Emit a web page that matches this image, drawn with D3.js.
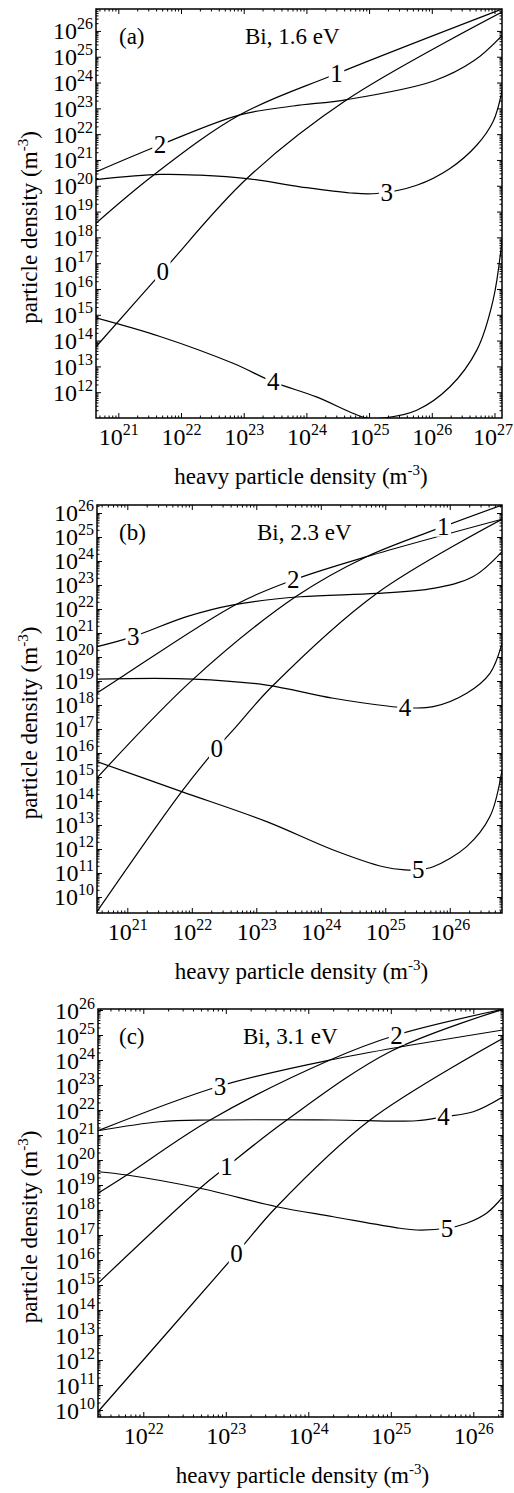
<!DOCTYPE html>
<html>
<head>
<meta charset="utf-8">
<script src="https://cdn.jsdelivr.net/npm/d3@7/dist/d3.min.js"></script>
<style>
  body { margin: 0; background: #fff; }
  svg text { font-family: "Liberation Serif", "Times New Roman", serif; fill: #000; }
</style>
</head>
<body>
<svg id="fig" width="514" height="1493"></svg>
<script>
// all values are log10 of the density in m^-3
// [heavy particle density, particle density]

// panel (a) Bi, 1.6 eV
var aXTicks = [21, 22, 23, 24, 25, 26, 27];
var aYTicks = [12, 13, 14, 15, 16, 17, 18, 19, 20, 21, 22, 23, 24, 25, 26];
var aNames = ["0", "1", "2", "3", "4"];
var aLabelAt = [21.71, 24.48, 21.665, 25.28, 23.47];
var a0 = [[20.644, 13.76], [21.71, 16.69], [23.05, 20.28], [24.65, 23.34], [27.12, 26.73]];
var a1 = [[20.644, 18.55], [21.56, 20.41], [22.94, 22.75], [24.48, 24.34], [27.12, 26.85]];
var a2 = [[20.644, 20.54], [21.665, 21.58], [22.94, 22.75], [23.79, 23.09], [24.65, 23.34],
          [26.03, 24.06], [26.67, 24.84], [27.12, 25.82]];
var a3 = [[20.644, 20.24], [21.665, 20.44], [22.30, 20.41], [23.05, 20.28], [23.90, 19.96],
          [24.70, 19.72], [25.12, 19.70], [25.76, 20.02], [26.29, 20.67], [26.72, 21.58],
          [26.98, 22.50], [27.12, 23.67]];
var a4 = [[20.644, 14.88], [21.665, 14.16], [22.83, 13.12], [23.47, 12.40], [24.16, 11.82],
          [24.96, 11.0], [25.23, 11.0], [25.76, 11.30], [26.29, 12.21], [26.72, 13.64],
          [26.98, 15.59], [27.12, 17.9]];

// panel (b) Bi, 2.3 eV
var bXTicks = [21, 22, 23, 24, 25, 26];
var bYTicks = [10, 11, 12, 13, 14, 15, 16, 17, 18, 19, 20, 21, 22, 23, 24, 25, 26];
var bNames = ["0", "1", "2", "3", "4", "5"];
var bLabelAt = [22.386, 25.899, 23.574, 21.093, 25.305, 25.512];
var b0 = [[20.53, 9.39], [21.843, 14.39], [22.386, 16.20], [22.643, 16.96], [23.239, 18.76],
          [24.867, 22.65], [26.81, 25.74]];
var b1 = [[20.53, 14.96], [22.023, 19.08], [23.626, 22.54], [24.71, 24.18], [25.899, 25.43],
          [26.81, 26.33]];
var b2 = [[20.53, 18.50], [20.84, 19.04], [22.70, 22.21], [23.574, 23.21], [24.71, 24.18],
          [26.81, 25.74]];
var b3 = [[20.53, 20.43], [21.093, 20.85], [21.921, 21.68], [22.643, 22.17], [23.678, 22.51],
          [24.867, 22.65], [25.744, 22.86], [26.364, 23.35], [26.81, 24.39]];
var b4 = [[20.53, 19.08], [22.023, 19.08], [23.161, 18.83], [24.194, 18.28], [25.305, 17.89],
          [25.744, 17.93], [26.262, 18.49], [26.623, 19.32], [26.81, 20.57]];
var b5 = [[20.53, 15.64], [21.843, 14.39], [23.161, 13.14], [24.194, 11.96], [24.969, 11.26],
          [25.305, 11.13], [25.512, 11.13], [25.744, 11.26], [26.262, 12.10], [26.623, 13.35],
          [26.81, 15.29]];

// panel (c) Bi, 3.1 eV
var cXTicks = [22, 23, 24, 25, 26];
var cYTicks = [10, 11, 12, 13, 14, 15, 16, 17, 18, 19, 20, 21, 22, 23, 24, 25, 26];
var cNames = ["0", "1", "2", "3", "4", "5"];
var cLabelAt = [23.13, 23.01, 25.07, 22.93, 25.64, 25.68];
var c0 = [[21.451, 9.93], [23.13, 16.27], [23.617, 18.13], [24.748, 21.6], [26.36, 24.87]];
var c1 = [[21.451, 15.07], [22.687, 18.87], [23.01, 19.73], [23.74, 21.6], [24.99, 24.33],
          [26.36, 26.03]];
var c2 = [[21.451, 18.67], [21.80, 19.40], [22.81, 21.60], [24.263, 24.0], [25.07, 25.0],
          [26.36, 26.03]];
var c3 = [[21.451, 21.17], [22.93, 22.96], [24.263, 24.0], [26.36, 25.2]];
var c4 = [[21.451, 21.17], [22.2, 21.53], [22.81, 21.6], [24.30, 21.6], [25.31, 21.57],
          [25.64, 21.73], [26.0, 21.93], [26.36, 22.53]];
var c5 = [[21.451, 19.53], [21.80, 19.40], [22.687, 18.87], [23.617, 18.13], [24.303, 17.73],
          [25.11, 17.27], [25.31, 17.2], [25.68, 17.27], [25.92, 17.47], [26.16, 17.87],
          [26.36, 18.53]];

var panels = [
  { box: [96, 9, 502, 418], xDom: [20.644, 27.12], yDom: [11, 26.85],
    xTicks: aXTicks, yTicks: aYTicks, curves: [a0, a1, a2, a3, a4], names: aNames, labelAt: aLabelAt,
    tag: "(a)", title: "Bi, 1.6 eV", titleX: 245 },
  { box: [97, 505, 502, 913], xDom: [20.53, 26.81], yDom: [9.333, 26.333],
    xTicks: bXTicks, yTicks: bYTicks, curves: [b0, b1, b2, b3, b4, b5], names: bNames, labelAt: bLabelAt,
    tag: "(b)", title: "Bi, 2.3 eV", titleX: 257 },
  { box: [98, 1009, 503, 1417], xDom: [21.451, 26.36], yDom: [9.72, 26.04],
    xTicks: cXTicks, yTicks: cYTicks, curves: [c0, c1, c2, c3, c4, c5], names: cNames, labelAt: cLabelAt,
    tag: "(c)", title: "Bi, 3.1 eV", titleX: 243 }
];

var svg = d3.select("#fig");
var pow = function(e) { return Math.pow(10, e); };

function minorTicks(dom) {
  var out = [];
  for (var e = Math.floor(dom[0]); e <= Math.ceil(dom[1]); e++) {
    for (var m = 2; m <= 9; m++) {
      var v = Math.log10(m) + e;
      if (v > dom[0] && v < dom[1]) out.push(pow(v));
    }
  }
  return out;
}

function sciText(sel) {
  sel.each(function(d) {
    var t = d3.select(this);
    t.text(null);
    t.append("tspan").text("10");
    t.append("tspan").attr("dy", -10).attr("font-size", 16).text(Math.round(Math.log10(d)));
  });
}

function unitText(t, s) {
  t.append("tspan").text(s + " (m");
  t.append("tspan").attr("dy", -9).attr("font-size", 15).text("-3");
  t.append("tspan").attr("dy", 9).text(")");
}

// find the point of a path at a given screen x (curves are monotone in x)
function pointAtX(node, px) {
  var lo = 0, hi = node.getTotalLength();
  for (var i = 0; i < 40; i++) {
    var mid = (lo + hi) / 2;
    if (node.getPointAtLength(mid).x < px) lo = mid; else hi = mid;
  }
  return node.getPointAtLength((lo + hi) / 2);
}

panels.forEach(function(p, pi) {
  var L = p.box[0], T = p.box[1], R = p.box[2], B = p.box[3];
  var x = d3.scaleLog().domain([pow(p.xDom[0]), pow(p.xDom[1])]).range([L, R]);
  var y = d3.scaleLog().domain([pow(p.yDom[0]), pow(p.yDom[1])]).range([B, T]);
  var g = svg.append("g");

  g.append("clipPath").attr("id", "clip" + pi)
    .append("rect").attr("x", L).attr("y", T).attr("width", R - L).attr("height", B - T);

  // ticks, all pointing inward
  var xMaj = p.xTicks.map(pow), yMaj = p.yTicks.map(pow);
  var xMin = minorTicks(p.xDom), yMin = minorTicks(p.yDom);
  var axes = [
    [d3.axisBottom(x), "translate(0," + B + ")", xMaj, xMin],
    [d3.axisTop(x), "translate(0," + T + ")", xMaj, xMin],
    [d3.axisLeft(y), "translate(" + L + ",0)", yMaj, yMin],
    [d3.axisRight(y), "translate(" + R + ",0)", yMaj, yMin]
  ];
  axes.forEach(function(a) {
    var minor = g.append("g").attr("transform", a[1])
      .call(a[0].tickValues(a[3]).tickSize(-2.5).tickFormat(""));
    minor.select(".domain").remove();
    var major = g.append("g").attr("transform", a[1])
      .call(a[0].tickValues(a[2]).tickSize(-5).tickFormat(""));
    major.select(".domain").remove();
    g.selectAll(".tick line").attr("stroke", "#000").attr("stroke-width", 1);
  });

  // tick labels
  var xl = g.append("g").attr("transform", "translate(0," + B + ")")
    .call(d3.axisBottom(x).tickValues(xMaj).tickSize(0));
  xl.select(".domain").remove();
  xl.attr("font-size", 24).attr("font-family", null);
  xl.selectAll(".tick text").attr("y", 27).attr("dy", 0).call(sciText);
  // keep the last label inside the page
  xl.selectAll(".tick").each(function() {
    var t = d3.select(this).select("text");
    var bb = this.getBBox();
    var m = this.getCTM();
    var right = m.e + bb.x + bb.width;
    if (right > 513) t.attr("x", 513 - right);
  });

  var yl = g.append("g").attr("transform", "translate(" + L + ",0)")
    .call(d3.axisLeft(y).tickValues(yMaj).tickSize(0));
  yl.select(".domain").remove();
  yl.attr("font-size", 24).attr("font-family", null);
  yl.selectAll(".tick text").attr("x", -3).attr("y", 8).attr("dy", 0).call(sciText);

  // frame
  g.append("rect").attr("x", L).attr("y", T).attr("width", R - L).attr("height", B - T)
    .attr("fill", "none").attr("stroke", "#000").attr("stroke-width", 1.5);

  // curves
  var line = d3.line()
    .x(function(d) { return x(pow(d[0])); })
    .y(function(d) { return y(pow(d[1])); })
    .curve(d3.curveCatmullRom.alpha(0.5));

  var paths = p.curves.map(function(c) {
    return g.append("path").datum(c)
      .attr("clip-path", "url(#clip" + pi + ")")
      .attr("d", line)
      .attr("fill", "none").attr("stroke", "#000").attr("stroke-width", 1.2);
  });

  // curve labels sitting in a gap of the line
  p.names.forEach(function(n, i) {
    var pt = pointAtX(paths[i].node(), x(pow(p.labelAt[i])));
    var t = g.append("text").attr("x", pt.x).attr("y", pt.y + 8.5)
      .attr("text-anchor", "middle").attr("font-size", 25).text(n);
    var bb = t.node().getBBox();
    g.insert("rect", function() { return t.node(); })
      .attr("x", bb.x - 1.5).attr("width", bb.width + 3)
      .attr("y", pt.y - 10).attr("height", 20)
      .attr("fill", "#fff");
  });

  // panel tag and title
  g.append("text").attr("x", 119).attr("y", T + 35).attr("font-size", 23).text(p.tag);
  g.append("text").attr("x", p.titleX).attr("y", T + 35).attr("font-size", 23).text(p.title);

  // axis titles
  var xt = g.append("text").attr("x", (L + R) / 2 + 2).attr("y", B + 66)
    .attr("text-anchor", "middle").attr("font-size", 23);
  unitText(xt, "heavy particle density");
  var yt = g.append("text")
    .attr("transform", "translate(37," + ((T + B) / 2 + 14) + ") rotate(-90)")
    .attr("text-anchor", "middle").attr("font-size", 23);
  unitText(yt, "particle density");
});
</script>
</body>
</html>
